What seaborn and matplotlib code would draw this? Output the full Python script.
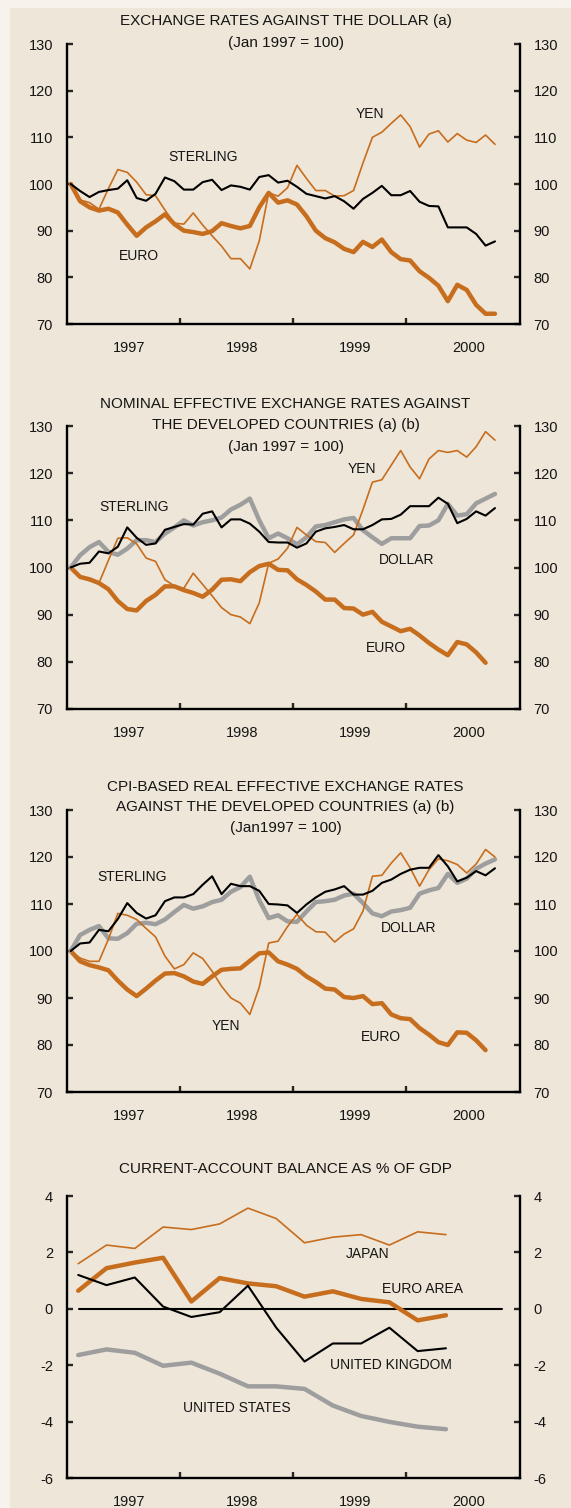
import numpy as np
import pandas as pd
import matplotlib
matplotlib.use("Agg")
import matplotlib.pyplot as plt
from matplotlib.patches import Rectangle
import seaborn as sns

# ---- data ----
months = pd.date_range("1997-01-01", periods=46, freq="MS")
quarters = pd.period_range("1997Q1", "2000Q2", freq="Q")

# panel 1: exchange rates against the dollar
p1_sterling = [100, 98.5, 97.2, 98.3, 98.7, 99.0, 100.8, 97.0, 96.4, 97.9, 101.4, 100.6,
               98.8, 98.8, 100.4, 100.9, 98.7, 99.7, 99.4, 98.8, 101.5, 101.9, 100.3, 100.7,
               99.4, 97.9, 97.4, 96.9, 97.4, 96.3, 94.7, 96.8, 98.1, 99.6, 97.6, 97.6,
               98.5, 96.2, 95.3, 95.2, 90.7, 90.7, 90.7, 89.3, 86.8, 87.7]
p1_euro = [100, 96.3, 95.0, 94.3, 94.7, 93.9, 91.3, 88.9, 90.7, 92.0, 93.5, 91.4,
           90.0, 89.7, 89.3, 89.9, 91.6, 91.0, 90.5, 91.0, 95.0, 98.1, 96.0, 96.5,
           95.6, 93.1, 90.0, 88.4, 87.5, 86.1, 85.4, 87.6, 86.5, 88.1, 85.4, 83.9,
           83.6, 81.3, 79.9, 78.2, 74.9, 78.4, 77.3, 74.1, 72.2, 72.2]
p1_yen = [100, 96.6, 96.0, 94.6, 99.0, 103.1, 102.5, 100.4, 97.7, 97.5, 94.4, 91.6,
          91.4, 93.8, 91.2, 88.9, 86.7, 84.0, 84.0, 81.8, 87.8, 98.1, 97.4, 99.2,
          104.0, 101.2, 98.6, 98.6, 97.4, 97.5, 98.6, 104.5, 110.0, 111.1, 113.0, 114.8,
          112.3, 107.9, 110.7, 111.4, 109.0, 110.8, 109.4, 108.9, 110.5, 108.5]

# panel 2: nominal effective exchange rates
p2_sterling = [100, 100.8, 101.0, 103.4, 103.0, 104.4, 108.5, 106.3, 104.8, 105.1, 108.0, 108.6,
               109.2, 109.1, 111.4, 111.9, 108.5, 110.2, 110.2, 109.3, 107.6, 105.4, 105.3, 105.3,
               104.2, 105.1, 107.6, 108.3, 108.6, 109.0, 108.1, 108.1, 109.0, 110.2, 110.3, 111.2,
               113.0, 113.0, 113.0, 114.8, 113.5, 109.4, 110.3, 111.9, 111.0, 112.6]
p2_dollar = [100, 102.6, 104.3, 105.4, 103.3, 102.7, 104.0, 105.8, 105.8, 105.4, 107.2, 108.5,
             110.0, 108.9, 109.6, 110.0, 110.6, 112.3, 113.3, 114.6, 110.0, 106.2, 107.2, 106.2,
             104.9, 106.4, 108.7, 109.0, 109.6, 110.2, 110.5, 107.9, 106.4, 105.0, 106.2, 106.2,
             106.2, 108.8, 108.9, 110.0, 113.5, 111.0, 111.3, 113.6, 114.6, 115.6]
p2_euro = [100, 98.0, 97.5, 96.7, 95.4, 92.9, 91.2, 90.9, 92.9, 94.2, 96.0, 96.0,
           95.2, 94.6, 93.8, 95.3, 97.4, 97.5, 97.1, 99.0, 100.3, 100.8, 99.5, 99.4,
           97.5, 96.3, 94.9, 93.2, 93.2, 91.4, 91.3, 90.0, 90.6, 88.5, 87.5, 86.5,
           87.0, 85.6, 84.0, 82.6, 81.4, 84.2, 83.7, 82.0, 79.8]
p2_yen = [100, 98.0, 97.2, 96.7, 101.5, 106.2, 106.3, 105.0, 102.0, 101.3, 97.4, 96.1,
          95.6, 98.8, 96.4, 94.0, 91.5, 90.0, 89.5, 88.1, 92.5, 100.9, 101.8, 104.1,
          108.5, 106.9, 105.5, 105.3, 103.2, 105.1, 106.9, 112.3, 118.1, 118.6, 121.7, 124.8,
          121.3, 118.8, 123.0, 124.8, 124.4, 124.8, 123.4, 125.6, 128.8, 127.0]

# panel 3: CPI-based real effective exchange rates
p3_sterling = [100, 101.6, 101.8, 104.5, 104.2, 106.8, 110.2, 108.1, 106.9, 107.6, 110.6, 111.4,
               111.4, 112.1, 114.1, 115.9, 112.1, 114.3, 113.8, 113.8, 112.8, 110.0, 109.9, 109.7,
               108.1, 109.9, 111.4, 112.6, 113.1, 113.8, 112.0, 112.0, 112.8, 114.5, 115.2, 116.4,
               117.3, 117.7, 117.7, 120.4, 118.0, 114.8, 115.6, 117.0, 116.1, 117.6]
p3_dollar = [100, 103.4, 104.5, 105.3, 102.7, 102.6, 103.8, 105.8, 106.0, 105.7, 106.7, 108.3,
             109.8, 109.0, 109.5, 110.4, 110.9, 112.6, 113.6, 115.8, 110.8, 107.0, 107.6, 106.3,
             106.2, 108.4, 110.4, 110.6, 110.9, 111.8, 112.2, 110.2, 108.0, 107.4, 108.4, 108.7,
             109.2, 112.2, 112.9, 113.4, 116.4, 114.5, 115.4, 117.5, 118.6, 119.5]
p3_euro = [100, 97.8, 97.0, 96.5, 95.9, 93.7, 91.8, 90.4, 92.0, 93.7, 95.2, 95.3,
           94.6, 93.5, 93.0, 94.6, 96.0, 96.2, 96.3, 97.9, 99.5, 99.7, 97.8, 97.1,
           96.2, 94.6, 93.4, 92.0, 91.8, 90.2, 90.0, 90.4, 88.7, 88.9, 86.5, 85.7,
           85.5, 83.6, 82.2, 80.6, 80.0, 82.7, 82.6, 81.0, 78.9]
p3_yen = [100, 98.5, 97.8, 97.8, 102.5, 108.0, 107.6, 106.7, 104.8, 103.0, 98.9, 96.2,
          97.1, 99.6, 98.4, 95.7, 92.5, 90.0, 88.9, 86.5, 92.3, 101.7, 102.1, 105.2,
          107.8, 105.5, 104.1, 104.0, 101.9, 103.6, 104.7, 108.5, 115.9, 116.1, 118.7, 120.9,
          117.7, 113.8, 117.3, 119.6, 119.2, 118.4, 116.6, 118.5, 121.6, 120.0]

# panel 4: current-account balance, % of GDP (quarterly)
ca_japan = [1.60, 2.26, 2.14, 2.90, 2.81, 3.01, 3.57, 3.20, 2.34, 2.54, 2.63, 2.26, 2.73, 2.63]
ca_euro = [0.64, 1.44, 1.64, 1.81, 0.26, 1.09, 0.90, 0.80, 0.43, 0.62, 0.35, 0.23, -0.41, -0.23]
ca_uk = [1.20, 0.84, 1.11, 0.08, -0.29, -0.12, 0.82, -0.67, -1.87, -1.23, -1.23, -0.67, -1.50, -1.40]
ca_us = [-1.64, -1.44, -1.56, -2.02, -1.91, -2.30, -2.75, -2.75, -2.84, -3.43, -3.80, -4.01, -4.18, -4.27]

year_labels = ["1997", "1998", "1999", "2000"]

# ---- styling ----
BG = "#EEE6D8"
ORANGE = "#C76D1E"
GREY = "#9E9E9E"
INK = "#151515"

sns.set_style("ticks")
plt.rcParams["font.family"] = ["Liberation Sans", "DejaVu Sans"]
plt.rcParams["axes.unicode_minus"] = False

W, H = 571, 1508
fig = plt.figure(figsize=(W / 100, H / 100), dpi=100)
fig.patch.set_facecolor("#F7F3EC")
fig.add_artist(Rectangle((10 / W, 0), 1 - 10 / W, 1 - 8 / H, transform=fig.transFigure,
                         facecolor=BG, edgecolor="none", zorder=-5))

t_month = months.year + (months.month - 1 + 0.4) / 12
t_quarter = quarters.year + (quarters.quarter - 1) / 4 + 0.1

LEFT = 66.9 / W
WIDTH = 452.6 / W


def make_axes(top_px, bottom_px):
    ax = fig.add_axes([LEFT, 1 - bottom_px / H, WIDTH, (bottom_px - top_px) / H])
    ax.set_facecolor("none")
    ax.set_xlim(1997, 2001)
    for s in ["left", "right", "bottom"]:
        ax.spines[s].set_visible(True)
        ax.spines[s].set_linewidth(1.7)
        ax.spines[s].set_color("black")
    ax.spines["top"].set_visible(False)
    ax.set_xticks([1998, 1999, 2000])
    ax.set_xticklabels([])
    ax.set_xticks([1997.55, 1998.55, 1999.55, 2000.55], minor=True)
    ax.set_xticklabels(year_labels, minor=True, fontsize=10.5, color=INK)
    ax.tick_params(axis="x", which="major", direction="in", length=4, width=1.7, top=False)
    ax.tick_params(axis="x", which="minor", length=0, pad=12)
    ax.tick_params(axis="y", direction="in", left=True, right=True, labelleft=True,
                   labelright=True, length=4, width=1.7, pad=10, labelsize=10.5,
                   labelcolor=INK)
    ax.set_xlabel("")
    ax.set_ylabel("")
    return ax


def line(ax, t, vals, color, lw, z):
    sns.lineplot(x=np.asarray(t[:len(vals)]), y=vals, ax=ax, color=color, lw=lw,
                 zorder=z, estimator=None, sort=False)


def title(lines, ys):
    for txt, y in zip(lines, ys):
        fig.text(0.5, 1 - y / H, txt, ha="center", va="center", fontsize=11, color=INK)


def label(ax, x, y, txt):
    ax.text(x, y, txt, ha="center", va="center", fontsize=10, color=INK)


# panel 1
ax1 = make_axes(44, 324)
ax1.set_ylim(70, 130)
ax1.set_yticks(range(70, 131, 10))
line(ax1, t_month, p1_euro, ORANGE, 3.2, 2)
line(ax1, t_month, p1_yen, ORANGE, 1.2, 3)
line(ax1, t_month, p1_sterling, "black", 1.5, 4)
label(ax1, 1998.205, 105.7, "STERLING")
label(ax1, 1997.64, 84.6, "EURO")
label(ax1, 1999.676, 115.0, "YEN")
title(["EXCHANGE RATES AGAINST THE DOLLAR (a)", "(Jan 1997 = 100)"], [21, 43])

# panel 2
ax2 = make_axes(426, 709)
ax2.set_ylim(70, 130)
ax2.set_yticks(range(70, 131, 10))
line(ax2, t_month, p2_euro, ORANGE, 3.2, 2)
line(ax2, t_month, p2_dollar, GREY, 3.2, 3)
line(ax2, t_month, p2_yen, ORANGE, 1.2, 4)
line(ax2, t_month, p2_sterling, "black", 1.5, 5)
label(ax2, 1997.593, 112.9, "STERLING")
label(ax2, 1999.608, 120.8, "YEN")
label(ax2, 2000.0, 101.6, "DOLLAR")
label(ax2, 1999.823, 83.0, "EURO")
title(["NOMINAL EFFECTIVE EXCHANGE RATES AGAINST", "THE DEVELOPED COUNTRIES (a) (b)",
       "(Jan 1997 = 100)"], [404, 424.5, 446.5])

# panel 3
ax3 = make_axes(810, 1092)
ax3.set_ylim(70, 130)
ax3.set_yticks(range(70, 131, 10))
line(ax3, t_month, p3_euro, ORANGE, 3.2, 2)
line(ax3, t_month, p3_dollar, GREY, 3.2, 3)
line(ax3, t_month, p3_yen, ORANGE, 1.2, 4)
line(ax3, t_month, p3_sterling, "black", 1.5, 5)
label(ax3, 1997.573, 115.8, "STERLING")
label(ax3, 1998.403, 84.1, "YEN")
label(ax3, 2000.02, 104.8, "DOLLAR")
label(ax3, 1999.776, 81.6, "EURO")
title(["CPI-BASED REAL EFFECTIVE EXCHANGE RATES", "AGAINST THE DEVELOPED COUNTRIES (a) (b)",
       "(Jan1997 = 100)"], [787, 807, 828])

# panel 4
ax4 = make_axes(1196, 1478)
ax4.set_ylim(-6, 4)
ax4.set_yticks(range(-6, 5, 2))
ax4.axhline(0, xmin=0.027, xmax=0.962, color="black", lw=1.5, zorder=1)
line(ax4, t_quarter, ca_us, GREY, 3.2, 2)
line(ax4, t_quarter, ca_euro, ORANGE, 3.2, 3)
line(ax4, t_quarter, ca_japan, ORANGE, 1.2, 4)
line(ax4, t_quarter, ca_uk, "black", 1.5, 5)
label(ax4, 1999.658, 1.93, "JAPAN")
label(ax4, 2000.145, 0.70, "EURO AREA")
label(ax4, 1999.865, -1.99, "UNITED KINGDOM")
label(ax4, 1998.506, -3.51, "UNITED STATES")
title(["CURRENT-ACCOUNT BALANCE AS % OF GDP"], [1169])

fig.savefig("out.png", dpi=100, facecolor=fig.get_facecolor())
